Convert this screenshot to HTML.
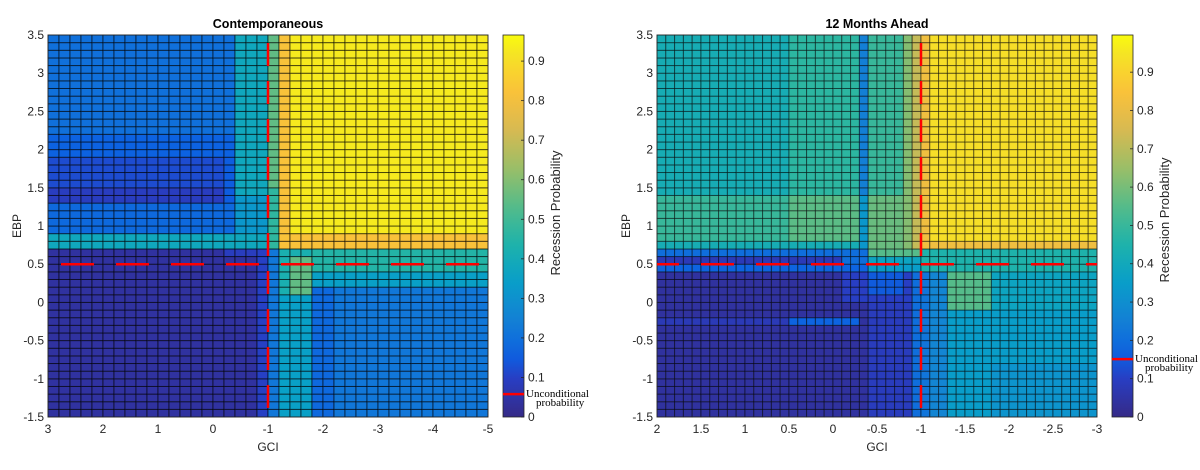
<!DOCTYPE html>
<html><head><meta charset="utf-8"><style>
body{margin:0;background:#fff;}
svg{display:block;font-family:"Liberation Sans",sans-serif;}
.tk{font-size:12px;fill:#262626;}
.ttl{font-size:12.5px;font-weight:bold;fill:#000;}
.lab{font-size:12px;fill:#262626;}
.uc{font-family:"Liberation Serif",serif;font-size:11px;fill:#000;}
</style></head><body>
<svg id="fig" width="1200" height="470" viewBox="0 0 1200 470">
<rect width="1200" height="470" fill="#fff"/>
</svg>
<script>
// ---------- data ----------
const yTicks = [-1.5,-1,-0.5,0,0.5,1,1.5,2,2.5,3,3.5];
const leftXTicks = [3,2,1,0,-1,-2,-3,-4,-5];
const rightXTicks = [2,1.5,1,0.5,0,-0.5,-1,-1.5,-2,-2.5,-3];
const cbTicks = [0,0.1,0.2,0.3,0.4,0.5,0.6,0.7,0.8,0.9];
const leftUncond = 0.058;
const rightUncond = 0.151;
// regions: [xA, xB, yA, yB, probability]; later entries override earlier
const leftRegions = [
 [-5,3,-1.5,3.5,0.93],
 [-1.4,-1.2,0.7,3.5,0.82],
 [-5,-1.2,0.7,0.9,0.82],
 [-1.2,-1,0.7,3.5,0.55],
 [-1.2,-1,0.7,1.5,0.47],
 [-1,-0.4,0.7,3.5,0.38],
 [-1,-0.4,0.7,1.4,0.32],
 [-0.4,3,2.2,3.5,0.2],
 [-0.4,3,1.9,2.2,0.16],
 [-0.2,3,1.3,1.9,0.12],
 [-0.4,-0.2,1.3,1.9,0.15],
 [-0.2,3,1.3,1.5,0.09],
 [-0.4,3,0.9,1.3,0.18],
 [-1,3,0.7,0.9,0.38],
 [-0.8,3,-1.5,0.7,0.04],
 [-0.8,-0.2,0.6,0.7,0.09],
 [-1,-0.8,-1.5,0.7,0.1],
 [-1.2,-1,-1.5,0.7,0.22],
 [-1.8,-1.2,-1.5,0.7,0.35],
 [-1.8,-1.2,0.1,0.7,0.42],
 [-1.8,-1.4,0.1,0.6,0.55],
 [-2.2,-1.8,-1.5,0.7,0.18],
 [-5,-2.2,-1.5,0.7,0.22],
 [-5,-1.8,0.4,0.7,0.45],
 [-5,-1.8,0.2,0.4,0.35]
];
const rightRegions = [
 [-3,2,-1.5,3.5,0.93],
 [-1.1,-1,0.7,3.5,0.82],
 [-3,-1,0.7,0.8,0.82],
 [-1,-0.9,0.7,3.5,0.72],
 [-0.9,-0.8,0.7,3.5,0.62],
 [-0.8,-0.4,0.7,3.5,0.5],
 [-0.8,-0.4,0.7,1.4,0.58],
 [-0.4,-0.3,0.7,3.5,0.25],
 [-0.4,-0.3,0.7,1.4,0.33],
 [-0.3,0.5,0.7,3.5,0.48],
 [-0.3,0.5,0.8,1.4,0.56],
 [0.5,2,0.7,3.5,0.42],
 [0.5,2,0.8,1.4,0.5],
 [-0.3,2,0.7,0.8,0.42],
 [-1,2,0.6,0.7,0.2],
 [-1,-0.4,0.6,0.7,0.55],
 [-1,2,0.5,0.6,0.08],
 [-0.4,-0.1,0.5,0.6,0.2],
 [-1,-0.4,0.5,0.6,0.38],
 [-1,2,0.4,0.5,0.17],
 [-1,-0.4,0.4,0.5,0.35],
 [-1,2,-1.5,0.4,0.04],
 [-0.9,-0.1,0,0.4,0.1],
 [-0.8,-0.4,0.1,0.4,0.15],
 [-0.9,-0.4,-1.5,0,0.09],
 [-0.3,0.5,-0.3,-0.2,0.17],
 [0.5,2,-0.3,-0.2,0.08],
 [-1,-0.9,-1.5,0.4,0.2],
 [-3,-1,-1.5,0.7,0.38],
 [-3,-1,0.4,0.7,0.45],
 [-1.1,-1,-1.5,0.4,0.22],
 [-1.3,-1.1,-1.5,0.4,0.27],
 [-3,-1.3,-1.5,-0.1,0.35],
 [-1.8,-1.3,-0.1,0.4,0.55],
 [-3,-1.8,-1.5,-0.8,0.32]
];
// ---------- rendering ----------
const NS='http://www.w3.org/2000/svg';
const svg=document.getElementById('fig');
function el(tag,attrs,parent){const e=document.createElementNS(NS,tag);for(const k in attrs)e.setAttribute(k,attrs[k]);(parent||svg).appendChild(e);return e;}
const stops=[[0,[53,42,135]],[0.1,[40,62,195]],[0.16,[12,96,226]],[0.26,[20,130,212]],[0.36,[8,160,200]],[0.46,[32,180,168]],[0.56,[90,188,135]],[0.66,[160,190,100]],[0.76,[220,185,80]],[0.86,[252,195,55]],[0.95,[245,228,36]],[1,[249,251,14]]];
function cmap(t){t=Math.max(0,Math.min(1,t));for(let i=1;i<stops.length;i++){if(t<=stops[i][0]){const a=stops[i-1],b=stops[i];const f=(t-a[0])/(b[0]-a[0]);const c=a[1].map((v,j)=>Math.round(v+(b[1][j]-v)*f));return `rgb(${c[0]},${c[1]},${c[2]})`;}}return 'rgb(249,251,14)';}
function lookup(regs,x,y){let v=0;for(const r of regs){const x0=Math.min(r[0],r[1]),x1=Math.max(r[0],r[1]);if(x>x0&&x<x1&&y>r[2]&&y<r[3])v=r[4];}return v;}

function panel(o){
 const g=el('g',{});
 
 
 const sx=v=>o.L+(o.x0-v)/(o.x0-o.x1)*(o.R-o.L);
 const sy=v=>o.B-(v+1.5)/5*(o.B-o.T);
 const cells=el('g',{},g);
 
 
 const nx=Math.round((o.x0-o.x1)/o.dx), ny=50;
 for(let i=0;i<nx;i++){for(let j=0;j<ny;j++){
  const xa=o.x0-i*o.dx, xb=xa-o.dx, ya=-1.5+j*0.1, yb=ya+0.1;
  const v=lookup(o.regs,(xa+xb)/2,(ya+yb)/2);
  const r=el('rect',{x:sx(xa),y:sy(yb),width:sx(xb)-sx(xa),height:sy(ya)-sy(yb),fill:cmap(v/o.vmax),stroke:'#000','stroke-opacity':o.so,'stroke-width':1},cells);
  
  
 }}
 const ax=el('rect',{x:o.L,y:o.T,width:o.R-o.L,height:o.B-o.T,fill:'none',stroke:'#262626','stroke-width':0.8},g);
 
 
 const hl=el('line',{x1:o.L,x2:o.R,y1:sy(0.5),y2:sy(0.5),stroke:'#f00','stroke-width':2.5,'stroke-dasharray':'33 22','stroke-dashoffset':o.hOff},g);
 
 
 const vl=el('line',{x1:sx(-1),x2:sx(-1),y1:o.T,y2:o.B,stroke:'#f00','stroke-width':2.5,'stroke-dasharray':'23 15','stroke-dashoffset':-8},g);
 
 
 for(const t of yTicks){const tx=el('text',{x:o.L-4,y:sy(t)+4,'text-anchor':'end',class:'tk'},g);tx.textContent=t;
  
  }
 for(const t of o.xt){const tx=el('text',{x:sx(t),y:o.B+16,'text-anchor':'middle',class:'tk'},g);tx.textContent=t;
  
  }
 const xl=el('text',{x:(o.L+o.R)/2,y:451,'text-anchor':'middle',class:'lab'},g);xl.textContent='GCI';
 
 
 const yl=el('text',{x:o.L-27,y:(o.T+o.B)/2,'text-anchor':'middle',class:'lab',transform:`rotate(-90 ${o.L-27} ${(o.T+o.B)/2})`},g);yl.textContent='EBP';
 
 
 const tt=el('text',{x:(o.L+o.R)/2,y:28,'text-anchor':'middle',class:'ttl'},g);tt.textContent=o.title;
 
 
 const cb=el('g',{},g);
 
 
 const cy=v=>o.B-v/o.vmax*(o.B-o.T);
 const gid='grad'+o.id;
 const defs=el('defs',{},cb);
 const lg=el('linearGradient',{id:gid,x1:0,y1:1,x2:0,y2:0},defs);
 for(let k=0;k<=20;k++){el('stop',{offset:k/20,'stop-color':cmap(k/20)},lg);}
 const cr=el('rect',{x:o.cbL,y:o.T,width:21,height:o.B-o.T,fill:`url(#${gid})`,stroke:'#262626','stroke-width':0.8},cb);
 
 
 for(const t of cbTicks){
  el('line',{x1:o.cbL+21,x2:o.cbL+18,y1:cy(t),y2:cy(t),stroke:'#262626','stroke-width':0.8},cb);
  const tx=el('text',{x:o.cbL+25,y:cy(t)+4,class:'tk'},cb);tx.textContent=t;
  
  }
 const ul=el('line',{x1:o.cbL,x2:o.cbL+21,y1:cy(o.unc),y2:cy(o.unc),stroke:'#f00','stroke-width':2.5},cb);
 
 
 const u1=el('text',{x:o.cbL+23,y:cy(o.unc)+3,class:'uc'},cb);u1.textContent='Unconditional';
 
 
 const u2=el('text',{x:o.cbL+33,y:cy(o.unc)+12,class:'uc'},cb);u2.textContent='probability';
 
 
 const cl=el('text',{x:o.cbL+57,y:o.cbLabY,'text-anchor':'middle',class:'lab',style:'font-size:13px',transform:`rotate(-90 ${o.cbL+57} ${o.cbLabY})`},cb);cl.textContent='Recession Probability';
 
 
}
panel({id:'L',name:'contemporaneous-panel',title:'Contemporaneous',L:48,R:488,T:35,B:417,x0:3,x1:-5,dx:0.2,regs:leftRegions,xt:leftXTicks,vmax:0.966,cbL:503,unc:leftUncond,hOff:-13,cbLabY:213,so:0.6});
panel({id:'R',name:'twelve-months-ahead-panel',title:'12 Months Ahead',L:657,R:1097,T:35,B:417,x0:2,x1:-3,dx:0.1,regs:rightRegions,xt:rightXTicks,vmax:0.997,cbL:1112,unc:rightUncond,hOff:11,cbLabY:220,so:0.5});
</script>
</body></html>
